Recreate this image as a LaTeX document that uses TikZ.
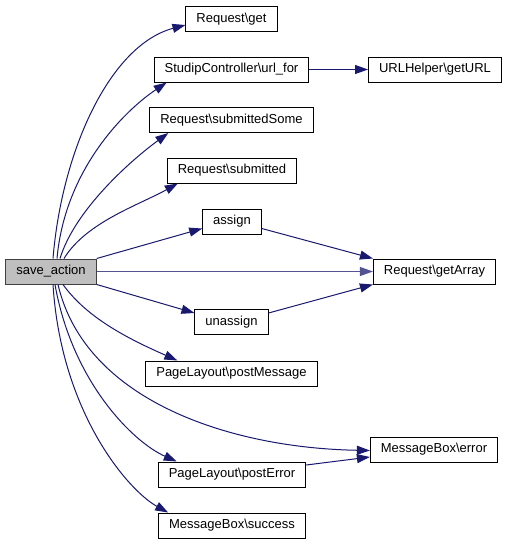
\documentclass[tikz,border=0pt]{standalone}
\usepackage{fontspec}
\setmainfont{Liberation Sans}
\usetikzlibrary{arrows.meta}
\definecolor{edgeblue}{HTML}{191970}

\begin{document}
\begin{tikzpicture}[
  x=1pt, y=1pt,
  func/.style={rectangle, draw=black, line width=1pt, fill=white, minimum height=25pt, inner xsep=10.5pt, inner ysep=0pt, text height=9.5pt, text depth=3pt, font=\fontsize{13}{15}\selectfont},
  caller/.style={func, fill=black!25, draw=black!75},
  call/.style={-{Triangle[length=13pt, width=9pt]}, line width=1pt, edgeblue}
]
\useasboundingbox (0,0) rectangle (508,-544);

\node[caller] (save) at (51,-271.5) {save\_action};
\node[func] (get) at (231.5,-19) {Request\textbackslash get};
\node[func] (urlfor) at (231.5,-69.5) {StudipController\textbackslash url\_for};
\node[func] (geturl) at (435,-69.5) {URLHelper\textbackslash getURL};
\node[func] (subsome) at (231.5,-120) {Request\textbackslash submittedSome};
\node[func] (submitted) at (232,-170.5) {Request\textbackslash submitted};
\node[func] (assign) at (232,-221.5) {assign};
\node[func] (getarray) at (434.5,-271.5) {Request\textbackslash getArray};
\node[func] (unassign) at (231.5,-322) {unassign};
\node[func] (postmsg) at (231.5,-373.5) {PageLayout\textbackslash postMessage};
\node[func] (error) at (434,-449.5) {MessageBox\textbackslash error};
\node[func] (posterror) at (232,-474.5) {PageLayout\textbackslash postError};
\node[func] (success) at (232,-525.5) {MessageBox\textbackslash success};

\draw[call] ([xshift=2pt]save.north) .. controls +(9,109) and +(-75,-20) .. ([yshift=-6pt]get.west);
\draw[call] ([xshift=6pt]save.north) .. controls +(8,89) and +(-42,-28) .. ([xshift=13pt]urlfor.south west);
\draw[call] ([xshift=9pt]save.north) .. controls +(15,49) and +(-37,-27) .. ([xshift=19pt]subsome.south west);
\draw[call] ([xshift=13pt]save.north) .. controls +(22,36) and +(-40,-22) .. ([xshift=11pt]submitted.south west);
\draw[call] (save.north east) -- ([yshift=-7pt]assign.west);
\draw[call, edgeblue!75] (save) -- (getarray);
\draw[call] (save.south east) -- ([yshift=9pt]unassign.west);
\draw[call] ([xshift=12pt]save.south) .. controls +(25,-35) and +(-45,20) .. ([xshift=32pt]postmsg.north west);
\draw[call] ([xshift=7pt]save.south) .. controls +(27,-116) and +(-140,2.5) .. ([yshift=-1pt]error.west);
\draw[call] ([xshift=4pt]save.south) .. controls +(17,-96) and +(-45,20) .. ([xshift=19pt]posterror.north west);
\draw[call] ([xshift=2pt]save.south) .. controls +(8,-128) and +(-40,22) .. ([xshift=10pt]success.north west);

\draw[call] (urlfor) -- (geturl);
\draw[call] ([yshift=-7pt]assign.east) -- (getarray.north west);
\draw[call] ([yshift=9pt]unassign.east) -- (getarray.south west);
\draw[call] ([yshift=9.5pt]posterror.east) -- ([yshift=-7.5pt]error.west);

\end{tikzpicture}
\end{document}
